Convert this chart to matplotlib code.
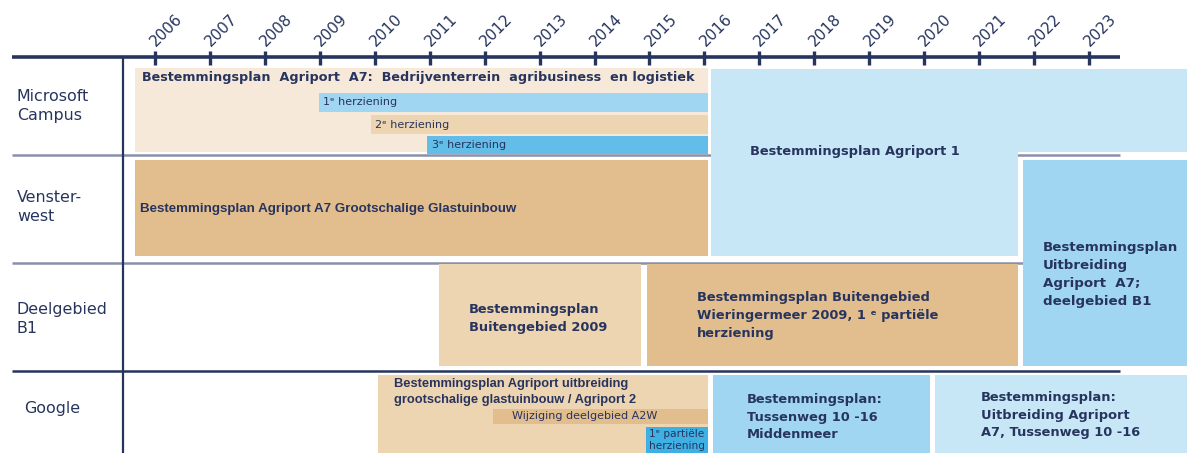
import matplotlib
matplotlib.use('Agg')
import matplotlib.pyplot as plt

# tijdlijn
years = list(range(2006, 2024))

# rijen (gebieden)
row_names = ["Microsoft\nCampus", "Venster-\nwest", "Deelgebied\nB1", "Google"]

plan_start = [2005.64, 2008.99, 2009.93, 2010.95, 2016.12, 2016.12, 2005.64,
              2021.80, 2011.17, 2014.96, 2010.06, 2012.15, 2014.94, 2016.16, 2020.20]
plan_end = [2016.07, 2016.07, 2016.07, 2016.07, 2024.80, 2021.71, 2016.07,
            2024.80, 2014.85, 2021.71, 2016.07, 2016.07, 2016.07, 2020.11, 2024.80]
plan_text = [
    "Bestemmingsplan  Agriport  A7:  Bedrijventerrein  agribusiness  en logistiek",
    "1ᵉ herziening",
    "2ᵉ herziening",
    "3ᵉ herziening",
    "",
    "Bestemmingsplan Agriport 1",
    "Bestemmingsplan Agriport A7 Grootschalige Glastuinbouw",
    "Bestemmingsplan\nUitbreiding\nAgriport  A7;\ndeelgebied B1",
    "Bestemmingsplan\nBuitengebied 2009",
    "Bestemmingsplan Buitengebied\nWieringermeer 2009, 1 ᵉ partiële\nherziening",
    "Bestemmingsplan Agriport uitbreiding\ngrootschalige glastuinbouw / Agriport 2",
    "Wijziging deelgebied A2W",
    "1ᵉ partiële\nherziening",
    "Bestemmingsplan:\nTussenweg 10 -16\nMiddenmeer",
    "Bestemmingsplan:\nUitbreiding Agriport\nA7, Tussenweg 10 -16",
]

# opmaak (layout in pixel-eenheden van de figuur, y naar beneden)
bar_top = [68, 93, 115, 136, 69, 152, 160, 160, 264, 264, 375, 409, 427, 375, 375]
bar_bot = [152, 112, 134, 154, 152, 256, 256, 366, 366, 366, 453, 424, 453, 453, 453]
text_y = [78, 102, 125, 145, 0, 152, 209, 275, 318, 316, 392, 416, 440, 417, 415]
text_pad = [7, 4, 4, 5, 0, 39, 5, 20, 30, 50, 16, 19, 3, 34, 46]

BEIGE = '#f6e9da'
TAN = '#eed5b2'
TAN_D = '#e2bd8e'
BLUE_P = '#c7e7f7'
BLUE_M = '#a0d6f1'
BLUE = '#63bde9'
BLUE_S = '#3eb0e3'
NAVY = '#27345e'
GRAYLINE = '#8a90aa'

bar_color = [BEIGE, BLUE_M, TAN, BLUE, BLUE_P, BLUE_P, TAN_D, BLUE_M, TAN,
             TAN_D, TAN, TAN_D, BLUE_S, BLUE_M, BLUE_P]
VERDANA = ['DejaVu Sans']
TAHOMA = ['Liberation Sans', 'DejaVu Sans']
text_font = [VERDANA, VERDANA, VERDANA, VERDANA, VERDANA, VERDANA, TAHOMA, VERDANA,
             VERDANA, VERDANA, TAHOMA, VERDANA, VERDANA, VERDANA, VERDANA]
text_size = [9.2, 8, 8, 8, 9.4, 9.4, 9.6, 9.6, 9.4, 9.4, 9.3, 8, 7.6, 9.4, 9.4]
text_bold = [True, False, False, False, True, True, True, True, True, True,
             True, False, False, True, True]
text_spacing = [1.5, 1.5, 1.5, 1.5, 1.5, 1.5, 1.5, 1.5, 1.5, 1.5, 1.35, 1.5,
                1.3, 1.45, 1.45]

row_label_y = [106, 207, 319, 408]
row_label_pad = [17, 17, 17, 24]
sep_y = [155, 262.7, 370.7]
sep_color = [GRAYLINE, GRAYLINE, NAVY]

px_per_year = 54.94
x0 = 2006 - 155 / px_per_year
x1 = 2006 + (1187 - 155) / px_per_year

fig = plt.figure(figsize=(11.87, 4.53), dpi=100)
ax = fig.add_axes([0, 0, 1, 1])
ax.set_xlim(x0, x1)
ax.set_ylim(453, 0)
ax.axis('off')

xl = x0 + 12 / px_per_year
xr = x0 + 1120 / px_per_year
xv = x0 + 123 / px_per_year

# scheidingslijnen
for y, c in zip(sep_y, sep_color):
    ax.hlines(y, xl, xr, color=c, linewidth=1.8, zorder=1)

# balken
for s, e, t, b, c in zip(plan_start, plan_end, bar_top, bar_bot, bar_color):
    ax.barh((t + b) / 2, e - s, left=s, height=b - t, color=c, linewidth=0, zorder=2)

# teksten in de balken
for s, txt, y, pad, fam, fs, bold, ls in zip(plan_start, plan_text, text_y, text_pad,
                                             text_font, text_size, text_bold, text_spacing):
    if not txt:
        continue
    ax.annotate(txt, xy=(s, y), xytext=(pad, 0), textcoords='offset pixels',
                ha='left', va='center', fontsize=fs, family=fam, color=NAVY,
                fontweight='bold' if bold else 'normal', linespacing=ls, zorder=3)

# tijdas
ax.hlines(57, xl, xr, color=NAVY, linewidth=2.6, zorder=4)
ax.vlines(years, 51, 65, color=NAVY, linewidth=2.4, zorder=4)
for yr in years:
    ax.annotate(str(yr), xy=(yr, 47), xytext=(1, 0), textcoords='offset pixels',
                rotation=45, rotation_mode='anchor', ha='left', va='baseline',
                fontsize=11, color=NAVY)

# verticale lijn
ax.vlines(xv, 57, 453, color=NAVY, linewidth=1.6, zorder=4)

# rijlabels
for name, y, pad in zip(row_names, row_label_y, row_label_pad):
    ax.annotate(name, xy=(x0, y), xytext=(pad, 0), textcoords='offset pixels',
                ha='left', va='center', fontsize=11.4, color=NAVY, linespacing=1.4)

fig.savefig('out.png', dpi=100)
